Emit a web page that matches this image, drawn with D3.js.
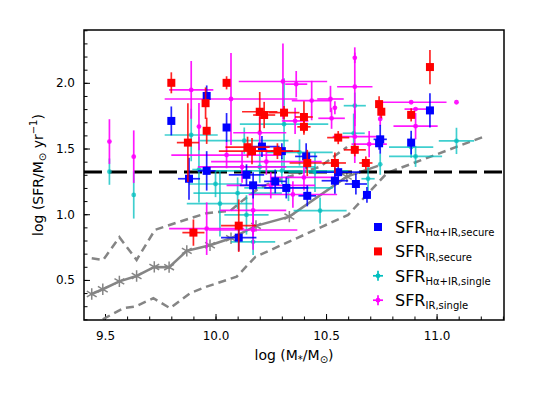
<!DOCTYPE html>
<html>
<head>
<meta charset="utf-8">
<script src="https://cdn.jsdelivr.net/npm/d3@7"></script>
<style>
  body { margin: 0; background: #fff; }
  svg { font-family: "DejaVu Sans", sans-serif; }
</style>
</head>
<body>
<script>
// [log M*, log SFR, xerr, yerr]
const haSecure = [
  [9.80, 1.71, 0, 0.11], [9.96, 1.90, 0, 0.08], [10.05, 1.66, 0, 0.11],
  [9.88, 1.27, 0.05, 0.16], [9.96, 1.33, 0.04, 0.15], [10.14, 1.30, 0.08, 0.08],
  [10.17, 1.22, 0.06, 0.10], [10.21, 1.515, 0.08, 0.08], [10.27, 1.25, 0.05, 0.09],
  [10.30, 1.48, 0.05, 0.06], [10.32, 1.20, 0.10, 0.08], [10.41, 1.44, 0.05, 0.10],
  [10.415, 1.14, 0.04, 0.08], [10.555, 1.32, 0.10, 0.08], [10.54, 1.255, 0.06, 0.10],
  [10.635, 1.23, 0.05, 0.08], [10.685, 1.147, 0, 0.06], [10.745, 1.57, 0.03, 0.11],
  [10.74, 1.54, 0, 0.05], [10.885, 1.545, 0, 0.09], [10.97, 1.79, 0, 0.13],
  [10.105, 0.822, 0.08, 0.10]
];
const irSecure = [
  [9.80, 2.00, 0, 0.08], [9.955, 1.845, 0, 0.12], [9.96, 1.635, 0, 0.10],
  [9.875, 1.545, 0.05, 0.30], [10.05, 2.00, 0, 0.05], [10.20, 1.78, 0.08, 0.15],
  [10.22, 1.755, 0.05, 0.10], [10.31, 1.773, 0.07, 0.05], [10.40, 1.74, 0.04, 0.12],
  [10.40, 1.665, 0.03, 0.06], [10.145, 1.51, 0.10, 0.08], [10.165, 1.48, 0.15, 0.10],
  [10.28, 1.48, 0.10, 0.06], [10.415, 1.39, 0.08, 0.10], [10.54, 1.39, 0.05, 0.08],
  [10.555, 1.583, 0.05, 0.05], [10.63, 1.49, 0.05, 0.05], [10.68, 1.39, 0.03, 0.05],
  [10.74, 1.838, 0, 0.06], [10.75, 1.78, 0, 0.05], [10.885, 1.756, 0, 0.05],
  [10.97, 2.12, 0, 0.13], [9.90, 0.86, 0.05, 0.10], [10.105, 0.913, 0.08, 0.20]
];
const haSingle = [
  [9.52, 1.324, 0, 0.10], [9.63, 1.147, 0, 0.18], [9.89, 1.603, 0.12, 0.20],
  [9.925, 1.34, 0.03, 0.25], [10.02, 1.08, 0.15, 0.25], [10.14, 0.995, 0.10, 0.15],
  [10.17, 0.79, 0.10, 0.10], [10.31, 1.685, 0.20, 0.35], [10.20, 1.36, 0.25, 0.12],
  [10.33, 1.20, 0.20, 0.10], [10.10, 1.16, 0.20, 0.12], [10.473, 1.027, 0.12, 0.10],
  [10.63, 1.826, 0.05, 0.10], [10.625, 1.616, 0.05, 0.15], [10.69, 1.27, 0.03, 0.10],
  [10.745, 1.38, 0, 0.08], [10.885, 1.51, 0.10, 0.08], [10.905, 1.44, 0.12, 0.08],
  [11.09, 1.558, 0.08, 0.10], [10.45, 1.32, 0.12, 0.15], [10.13, 1.56, 0.20, 0.10],
  [10.30, 1.33, 0.30, 0.10], [10.00, 1.23, 0.12, 0.10], [10.38, 1.47, 0.15, 0.10]
];
const irSingle = [
  [9.52, 1.553, 0, 0.17], [9.63, 1.438, 0, 0.20], [9.89, 1.946, 0.10, 0.22],
  [9.925, 1.667, 0, 0.18], [10.07, 1.877, 0.30, 0.35], [10.305, 2.01, 0.20, 0.29],
  [10.365, 1.99, 0.05, 0.10], [10.435, 1.865, 0.09, 0.15], [10.52, 1.877, 0.06, 0.10],
  [10.54, 1.81, 0, 0.05], [10.63, 2.19, 0, 0.04], [10.63, 1.97, 0.08, 0.30],
  [10.63, 1.59, 0.10, 0.20], [10.525, 1.73, 0.06, 0.08], [10.36, 1.71, 0.06, 0.10],
  [10.745, 1.725, 0, 0.05], [10.695, 1.533, 0.08, 0.10], [10.885, 1.852, 0.16, 0],
  [11.09, 1.852, 0, 0], [10.905, 1.80, 0.05, 0], [10.905, 1.67, 0.10, 0.10],
  [10.17, 0.88, 0.20, 0.15], [9.96, 0.89, 0.17, 0.20], [10.05, 1.45, 0.25, 0.10],
  [10.12, 1.36, 0.20, 0.12], [10.25, 1.22, 0.20, 0.10], [10.40, 1.28, 0.15, 0.10],
  [10.17, 1.03, 0.15, 0.20], [10.23, 1.40, 0.25, 0.10], [10.35, 1.15, 0.20, 0.10],
  [10.20, 1.62, 0.12, 0.12]
];

// main sequence medians and envelope
const msMass = [9.44, 9.49, 9.565, 9.643, 9.723, 9.79, 9.87, 9.975, 10.07, 10.183, 10.334, 10.594];
const msSfr  = [0.393, 0.429, 0.489, 0.530, 0.599, 0.597, 0.721, 0.764, 0.817, 0.911, 0.982, 1.286];
const msEnd = [10.735, 1.368];
const upMass = [9.44, 9.492, 9.565, 9.643, 9.726, 9.839, 9.96, 10.066, 10.126, 10.186, 10.247, 10.473, 10.595];
const upSfr  = [0.665, 0.652, 0.825, 0.652, 0.881, 0.944, 1.008, 1.025, 1.109, 1.185, 1.238, 1.362, 1.512];
const loMass = [9.49, 9.583, 9.636, 9.719, 9.794, 9.885, 9.96, 10.096, 10.18, 10.60, 10.776, 11.21];
const loSfr  = [0.20, 0.285, 0.297, 0.361, 0.285, 0.399, 0.449, 0.525, 0.675, 0.995, 1.314, 1.588];
const sfrCut = 1.322;

const xTicks = [9.5, 10.0, 10.5, 11.0];
const yTicks = [0.5, 1.0, 1.5, 2.0];

const width = 545, height = 394;
const margin = {left: 84, top: 30, right: 41, bottom: 74};
const w = width - margin.left - margin.right;
const h = height - margin.top - margin.bottom;

const x = d3.scaleLinear().domain([9.405, 11.305]).range([0, w]);
const y = d3.scaleLinear().domain([0.195, 2.402]).range([h, 0]);

const svg = d3.select("body").append("svg")
  .attr("width", width)
  .attr("height", height);

svg.append("defs").append("clipPath").attr("id", "clip")
  .append("rect").attr("width", w).attr("height", h);

const g = svg.append("g")
  .attr("transform", "translate(" + margin.left + "," + margin.top + ")");

// axes
const minorX = d3.range(9.5, 11.31, 0.1).map(v => +v.toFixed(1));
const minorY = d3.range(0.2, 2.41, 0.1).map(v => +v.toFixed(1));

g.append("g").attr("transform", "translate(0," + h + ")")
  .call(d3.axisBottom(x).tickValues(minorX).tickSize(-3.5).tickFormat(""))
  .call(a => a.select(".domain").remove());
g.append("g").call(d3.axisLeft(y).tickValues(minorY).tickSize(-3.5).tickFormat(""))
  .call(a => a.select(".domain").remove());

const xAxis = g.append("g").attr("transform", "translate(0," + h + ")")
  .call(d3.axisBottom(x).tickValues(xTicks).tickSize(-6).tickPadding(11).tickFormat(d3.format(".1f")));
const yAxis = g.append("g")
  .call(d3.axisLeft(y).tickValues(yTicks).tickSize(-6).tickPadding(9).tickFormat(d3.format(".1f")));
[xAxis, yAxis].forEach(a => {
  a.select(".domain").remove();
  a.selectAll("text").attr("font-size", 12).attr("fill", "#000")
    .attr("font-family", "DejaVu Sans, sans-serif");
});
g.selectAll(".tick line").attr("stroke", "#000").attr("stroke-width", 1);

const plot = g.append("g").attr("clip-path", "url(#clip)");

// envelope and median lines
const line = d3.line().x(d => x(d[0])).y(d => y(d[1]));
plot.append("path")
  .datum(upMass.map((m, i) => [m, upSfr[i]]))
  .attr("d", line).attr("fill", "none")
  .attr("stroke", "#858585").attr("stroke-width", 2.5).attr("stroke-dasharray", "8,5");
plot.append("path")
  .datum(loMass.map((m, i) => [m, loSfr[i]]))
  .attr("d", line).attr("fill", "none")
  .attr("stroke", "#858585").attr("stroke-width", 2.5).attr("stroke-dasharray", "8,5");
const msPts = msMass.map((m, i) => [m, msSfr[i]]);
plot.append("path")
  .datum(msPts.concat([msEnd]))
  .attr("d", line).attr("fill", "none")
  .attr("stroke", "#858585").attr("stroke-width", 2.5);
plot.selectAll(".star").data(msPts).join("path")
  .attr("class", "star")
  .attr("transform", d => "translate(" + x(d[0]) + "," + y(d[1]) + ")")
  .attr("d", d3.symbol(d3.symbolAsterisk, 90))
  .attr("fill", "none").attr("stroke", "#858585").attr("stroke-width", 1.5);

// sample threshold
plot.append("line")
  .attr("x1", 0).attr("x2", w)
  .attr("y1", y(sfrCut)).attr("y2", y(sfrCut))
  .attr("stroke", "#000").attr("stroke-width", 3).attr("stroke-dasharray", "18,7");

function drawSeries(data, color, opacity, marker) {
  const s = plot.append("g");
  const pts = s.selectAll("g").data(data).join("g");
  pts.append("line")
    .attr("x1", d => x(d[0] - d[2])).attr("x2", d => x(d[0] + d[2]))
    .attr("y1", d => y(d[1])).attr("y2", d => y(d[1]))
    .attr("stroke", color).attr("stroke-width", 1.7).attr("opacity", opacity);
  pts.append("line")
    .attr("x1", d => x(d[0])).attr("x2", d => x(d[0]))
    .attr("y1", d => y(d[1] - d[3])).attr("y2", d => y(d[1] + d[3]))
    .attr("stroke", color).attr("stroke-width", 1.7).attr("opacity", opacity);
  if (marker === "square") {
    pts.append("rect")
      .attr("x", d => x(d[0]) - 4).attr("y", d => y(d[1]) - 4)
      .attr("width", 8).attr("height", 8).attr("fill", color);
  } else {
    pts.append("circle")
      .attr("cx", d => x(d[0])).attr("cy", d => y(d[1]))
      .attr("r", 2.4).attr("fill", color).attr("opacity", opacity);
  }
}

drawSeries(haSingle, "#00bfbf", 0.75, "dot");
drawSeries(irSingle, "#ff00ff", 0.9, "dot");
drawSeries(haSecure, "#0000ff", 0.85, "square");
drawSeries(irSecure, "#ff0000", 0.85, "square");

// frame
g.append("rect").attr("width", w).attr("height", h)
  .attr("fill", "none").attr("stroke", "#000").attr("stroke-width", 1.5);

// legend
const legend = [
  {color: "#0000ff", sub: "Hα+IR,secure", marker: "square"},
  {color: "#ff0000", sub: "IR,secure", marker: "square"},
  {color: "#00bfbf", sub: "Hα+IR,single", marker: "dot"},
  {color: "#ff00ff", sub: "IR,single", marker: "dot"}
];
const lg = svg.append("g").attr("transform", "translate(378,227)");
legend.forEach((d, i) => {
  const row = lg.append("g").attr("transform", "translate(0," + (i * 24.4) + ")");
  if (d.marker === "square") {
    row.append("rect").attr("x", -4).attr("y", -4).attr("width", 8).attr("height", 8).attr("fill", d.color);
  } else {
    row.append("line").attr("x1", -5).attr("x2", 5).attr("stroke", d.color).attr("stroke-width", 1.7);
    row.append("line").attr("y1", -5).attr("y2", 5).attr("stroke", d.color).attr("stroke-width", 1.7);
    row.append("circle").attr("r", 2.4).attr("fill", d.color);
  }
  const t = row.append("text").attr("x", 17).attr("y", 5.7).attr("font-size", 16).attr("fill", "#000");
  t.append("tspan").text("SFR");
  t.append("tspan").attr("font-size", 10).attr("dy", 3.5).text(d.sub);
});

// axis labels
const xl = svg.append("text")
  .attr("x", margin.left + w / 2).attr("y", 360)
  .attr("text-anchor", "middle").attr("font-size", 14);
xl.append("tspan").text("log (M");
xl.append("tspan").attr("font-size", 10).attr("dy", 3).text("*");
xl.append("tspan").attr("dy", -3).text("/M");
xl.append("tspan").attr("font-size", 10).attr("dy", 3).text("⊙");
xl.append("tspan").attr("dy", -3).text(")");

const yl = svg.append("text")
  .attr("transform", "translate(43," + (margin.top + h / 2) + ") rotate(-90)")
  .attr("text-anchor", "middle").attr("font-size", 14);
yl.append("tspan").text("log (SFR/M");
yl.append("tspan").attr("font-size", 10).attr("dy", 3).text("⊙");
yl.append("tspan").attr("dy", -3).text(" yr");
yl.append("tspan").attr("font-size", 10).attr("dy", -6).text("−1");
yl.append("tspan").attr("dy", 6).text(")");
</script>
</body>
</html>
